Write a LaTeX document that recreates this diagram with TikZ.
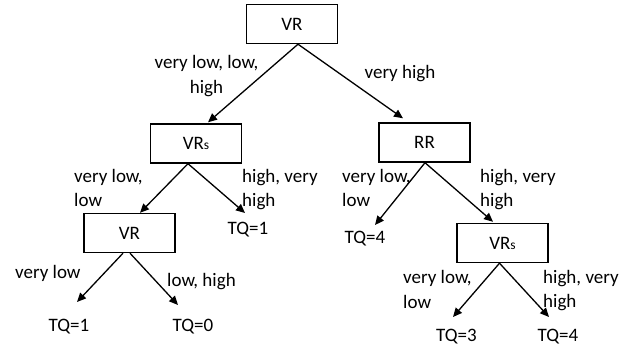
\documentclass[tikz,border=0pt]{standalone}
\usepackage{fontspec}
\setmainfont{Carlito}
\usetikzlibrary{arrows.meta}
\begin{document}
\begin{tikzpicture}[x=1pt,y=-1pt,
  box/.style={draw, line width=1.4pt, minimum width=91pt, minimum height=39pt, inner sep=0pt, font=\fontsize{19}{24.5}\selectfont},
  lbl/.style={inner sep=0pt, font=\fontsize{19}{24.5}\selectfont},
  conn/.style={line width=1.3pt, -{Triangle[length=9pt,width=8pt]}}]
\useasboundingbox (0,0) rectangle (639,351);
\newcommand\smalls{{\fontsize{13.5}{13.5}\selectfont s}}
% boxes
\node[box] (vr1) at (292,24) {VR};
\node[box] (vrs1) at (196,143.5) {VR\smalls};
\node[box] (rr) at (424.5,142.5) {RR};
\node[box] (vr2) at (129.5,233) {VR};
\node[box] (vrs2) at (502.5,243) {VR\smalls};
% leaves
\node[lbl, anchor=base] (tq1a) at (248,234) {TQ=1};
\node[lbl, anchor=base] (tq4a) at (365,243) {TQ=4};
\node[lbl, anchor=base] (tq1b) at (69,331.5) {TQ=1};
\node[lbl, anchor=base] (tq0) at (193,331.5) {TQ=0};
\node[lbl, anchor=base] (tq3) at (456.5,341.5) {TQ=3};
\node[lbl, anchor=base] (tq4b) at (558,341.5) {TQ=4};
% arrow ends
\coordinate (e1) at (245,213);
\coordinate (e2) at (375,225);
\coordinate (e3) at (77,302);
\coordinate (e4) at (178,305);
\coordinate (e5) at (453,317);
\coordinate (e6) at (549,317);
% connectors
\draw[conn] ([xshift=6pt]vr1.south) -- ([xshift=12pt,yshift=1pt]vrs1.north);
\draw[conn] ([xshift=6pt]vr1.south) -- ([xshift=-21.5pt,yshift=4pt]rr.north);
\draw[conn] ([xshift=-8pt]vrs1.south) -- ([xshift=10.5pt]vr2.north);
\draw[conn] ([xshift=-8pt]vrs1.south) -- (e1);
\draw[conn] ([xshift=0.5pt]rr.south) -- (e2);
\draw[conn] ([xshift=0.5pt]rr.south) -- ([xshift=-9.5pt,yshift=1pt]vrs2.north);
\draw[conn] ([xshift=-6.5pt]vr2.south) -- (e3);
\draw[conn] ([xshift=0.5pt]vr2.south) -- (e4);
\draw[conn] ([xshift=-3pt]vrs2.south) -- (e5);
\draw[conn] ([xshift=-3pt]vrs2.south) -- (e6);
% labels (base anchor = baseline of last line)
\node[lbl, anchor=base, align=center] (l1) at (206.5,93) {very low, low,\\high};
\node[lbl, anchor=base] (l2) at (400,78) {very high};
\node[lbl, anchor=base west, align=left] (l3) at (74,206.5) {very low,\\low};
\node[lbl, anchor=base west, align=left] (l4) at (242,206.5) {high, very\\high};
\node[lbl, anchor=base west] (l5) at (15,278) {very low};
\node[lbl, anchor=base west] (l6) at (167,286.5) {low, high};
\node[lbl, anchor=base west, align=left] (l7) at (342,206.5) {very low,\\low};
\node[lbl, anchor=base west, align=left] (l8) at (480,206.5) {high, very\\high};
\node[lbl, anchor=base west, align=left] (l9) at (403,308) {very low,\\low};
\node[lbl, anchor=base west, align=left] (l10) at (543,307.5) {high, very\\high};
\end{tikzpicture}
\end{document}
